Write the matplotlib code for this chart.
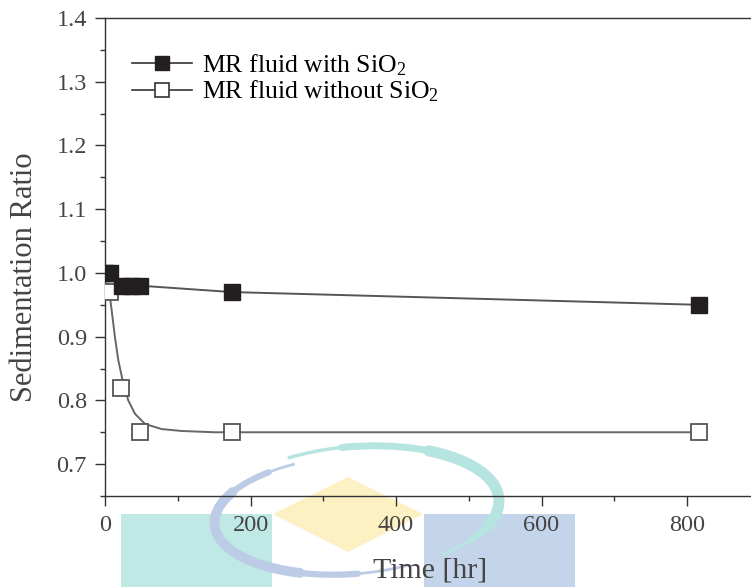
import matplotlib
matplotlib.use("Agg")
import matplotlib.pyplot as plt
from matplotlib.patches import Rectangle, Polygon, Arc
from matplotlib.ticker import MultipleLocator

# data
time_with = [0, 7, 24, 36, 48, 174, 816]
ratio_with = [1.00, 1.00, 0.98, 0.98, 0.98, 0.97, 0.95]

time_without = [7, 22, 48, 174, 816]
ratio_without = [0.97, 0.82, 0.75, 0.75, 0.75]

# fitted curve for the fluid without SiO2
fit_time = [4.5, 9.2, 13.7, 18.3, 25.2, 32.0, 41.2, 55.0, 78.0, 105.5, 151, 816]
fit_ratio = [0.983, 0.941, 0.899, 0.863, 0.826, 0.800, 0.779, 0.763, 0.755, 0.752, 0.750, 0.750]

plt.rcParams["font.family"] = ["Liberation Serif", "DejaVu Serif"]
plt.rcParams["mathtext.fontset"] = "custom"
plt.rcParams["mathtext.rm"] = "Liberation Serif"
plt.rcParams["mathtext.it"] = "Liberation Serif"

W, H = 751, 587
fig = plt.figure(figsize=(W / 100, H / 100), dpi=100)


def fx(px):
    return px / W


def fy(py):
    return 1 - py / H


# watermark logo in the lower part of the picture
wm = dict(transform=fig.transFigure, zorder=0, linewidth=0)
fig.patches.append(Rectangle((fx(121), fy(587)), fx(151), 73 / H, facecolor="#c0e9e5", **wm))
fig.patches.append(Rectangle((fx(424), fy(587)), fx(151), 73 / H, facecolor="#c4d4ea", **wm))
fig.patches.append(Polygon([(fx(348), fy(477)), (fx(423), fy(514)), (fx(348), fy(552)), (fx(273), fy(514))],
                           closed=True, facecolor="#fdf1c3", **wm))

# ring of the logo: teal crescent on top/right, blue crescent on left/bottom
ring = dict(transform=fig.transFigure, zorder=0, capstyle="round")
for t1, t2, lw in [(-40, 130, 2.5), (-25, 95, 5), (-15, 40, 8)]:
    fig.patches.append(Arc((fx(357), fy(509)), fx(285), 125 / H, angle=6, theta1=t1, theta2=t2,
                           color="#b6e4e0", lw=lw, **ring))
for t1, t2, lw in [(125, 305, 2), (140, 270, 4.5), (160, 230, 7)]:
    fig.patches.append(Arc((fx(350), fy(515)), fx(272), 118 / H, angle=6, theta1=t1, theta2=t2,
                           color="#bccbe6", lw=lw, **ring))

ax = fig.add_axes([fx(105), fy(496), 727.5 / W, 478 / H])
ax.set_zorder(2)
ax.patch.set_alpha(0)

ax.plot(time_with, ratio_with, color="#555555", lw=1.4, zorder=2)
ax.plot(fit_time, fit_ratio, color="#666666", lw=1.4, zorder=2)

ax.plot(time_without, ratio_without, ls="none", marker="s", ms=12, mfc="white",
        mec="#555555", mew=1.3, zorder=3)
ax.plot(time_with, ratio_with, ls="none", marker="s", ms=12, mfc="#231f20",
        mec="#231f20", zorder=4)

# legend entries drawn as line + marker
h1, = ax.plot([], [], color="#333333", lw=1.2, marker="s", ms=9.5, mfc="#231f20", mec="#231f20")
h2, = ax.plot([], [], color="#333333", lw=1.2, marker="s", ms=9.5, mfc="white", mec="#333333", mew=1.2)
ax.legend([h1, h2], ["MR fluid with SiO$_2$", "MR fluid without SiO$_2$"],
          loc="upper left", bbox_to_anchor=(0.037, 0.929), frameon=False,
          fontsize=18.5, handlelength=2.33, handletextpad=0.4, labelspacing=0.05,
          borderpad=0, borderaxespad=0)

ax.set_xlim(0, 1000)
ax.set_ylim(0.65, 1.4)
ax.set_xticks([0, 200, 400, 600, 800])
ax.xaxis.set_minor_locator(MultipleLocator(100))
ax.set_yticks([0.7, 0.8, 0.9, 1.0, 1.1, 1.2, 1.3, 1.4])
ax.set_yticklabels(["0.7", "0.8", "0.9", "1.0", "1.1", "1.2", "1.3", "1.4"])
ax.yaxis.set_minor_locator(MultipleLocator(0.05))

ax.tick_params(which="major", length=7.2, width=1, color="#333333", labelsize=17.5,
               labelcolor="#444444", pad=5.8)
ax.tick_params(which="minor", length=3.8, width=1, color="#333333")
ax.tick_params(axis="x", which="major", pad=6.5)
ax.spines["right"].set_visible(False)
for s in ["left", "bottom", "top"]:
    ax.spines[s].set_color("#333333")
    ax.spines[s].set_linewidth(1)

fig.text(fx(25), fy(277), "Sedimentation Ratio", rotation=90, ha="center", va="center",
         fontsize=22, color="#444444")
fig.text(fx(430), fy(570), "Time [hr]", ha="center", va="center", fontsize=21.5, color="#444444")

plt.savefig("out.png", dpi=100)
